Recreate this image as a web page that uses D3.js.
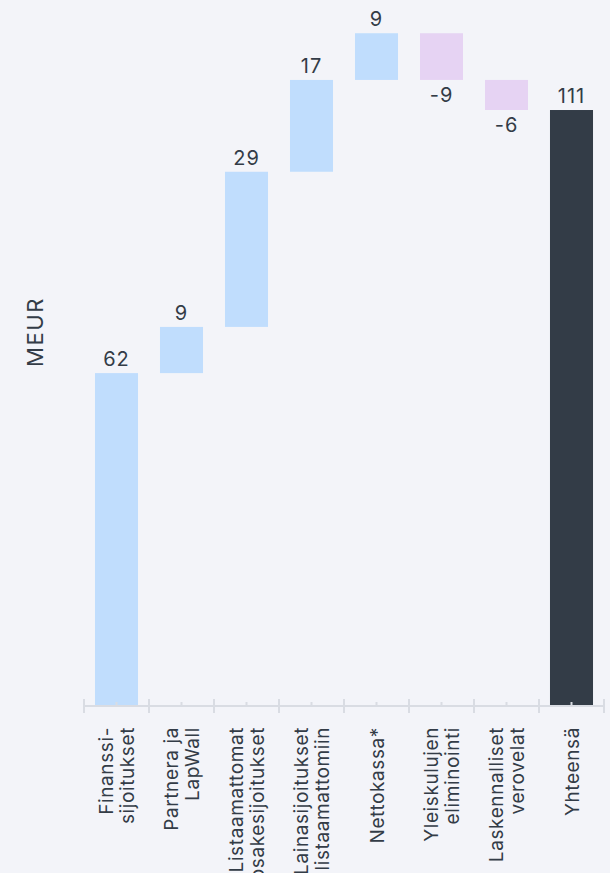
<!DOCTYPE html>
<html>
<head>
<meta charset="utf-8">
<script src="https://cdn.jsdelivr.net/npm/d3@7"></script>
<style>
    html, body { margin: 0; padding: 0; background: #f3f4f9; }
    svg { display: block; font-family: Inter, "Open Sans", sans-serif; }
</style>
</head>
<body>
<div id="chart"></div>
<script>
    "use strict";

    // category labels, one entry per line of text
    const categories = [
        ["Finanssi-", "sijoitukset"],
        ["Partnera ja", "LapWall"],
        ["Listaamattomat", "osakesijoitukset"],
        ["Lainasijoitukset", "listaamattomiin"],
        ["Nettokassa*"],
        ["Yleiskulujen", "eliminointi"],
        ["Laskennalliset", "verovelat"],
        ["Yhteensä"]
    ];

    // step values (MEUR), last one is the total
    const steps = [62.0, 8.6, 28.9, 17.1, 8.7, -8.7, -5.6];
    const stepLabels = ["62", "9", "29", "17", "9", "-9", "-6"];
    const totalLabel = "111";

    const width = 610;
    const height = 873;

    const svg = d3.select("#chart").append("svg")
        .attr("width", width)
        .attr("height", height);

    const keys = categories.map(c => c.join(" "));

    const x = d3.scaleBand()
        .domain(keys)
        .range([84, 604])
        .paddingInner(0.338)
        .paddingOuter(0.169);

    const y = d3.scaleLinear()
        .domain([0, 130])
        .range([706, 8]);

    // build waterfall rows
    let running = 0;
    const rows = steps.map((v, i) => {
        const start = running;
        running += v;
        return {key: keys[i], start: start, end: running, value: v, label: stepLabels[i], kind: v >= 0 ? "up" : "down"};
    });
    rows.push({key: keys[keys.length - 1], start: 0, end: running, value: running, label: totalLabel, kind: "total"});

    const fill = {up: "#c0ddfd", down: "#e6d3f3", total: "#333c47"};

    svg.append("g")
        .selectAll("rect")
        .data(rows)
        .join("rect")
        .attr("x", d => x(d.key))
        .attr("width", x.bandwidth())
        .attr("y", d => y(Math.max(d.start, d.end)))
        .attr("height", d => Math.abs(y(d.start) - y(d.end)))
        .attr("fill", d => fill[d.kind]);

    svg.append("g")
        .selectAll("text")
        .data(rows)
        .join("text")
        .attr("x", d => x(d.key) + x.bandwidth() / 2)
        .attr("y", d => d.kind === "down" ? y(Math.min(d.start, d.end)) + 22 : y(Math.max(d.start, d.end)) - 7)
        .attr("text-anchor", "middle")
        .attr("font-size", 20)
        .attr("letter-spacing", 1)
        .attr("fill", "#333c47")
        .text(d => d.label);

    // axis
    const axisY = y(0);
    const axis = svg.append("g").attr("stroke", "#d9dce3").attr("stroke-width", 2);
    axis.append("line")
        .attr("x1", x.range()[0]).attr("x2", x.range()[1])
        .attr("y1", axisY).attr("y2", axisY);

    const bounds = keys.map(k => x(k) - x.step() * x.paddingInner() / 2).concat([x.range()[1]]);
    axis.selectAll(".major")
        .data(bounds)
        .join("line")
        .attr("class", "major")
        .attr("x1", d => d).attr("x2", d => d)
        .attr("y1", axisY - 7).attr("y2", axisY + 7);

    axis.selectAll(".minor")
        .data(keys)
        .join("line")
        .attr("class", "minor")
        .attr("x1", d => x(d) + x.bandwidth() / 2).attr("x2", d => x(d) + x.bandwidth() / 2)
        .attr("y1", axisY - 4).attr("y2", axisY);

    // category labels, rotated
    const labels = svg.append("g")
        .selectAll("text")
        .data(categories)
        .join("text")
        .attr("transform", (d, i) => `translate(${x(keys[i]) + x.bandwidth() / 2},${axisY + 21}) rotate(-90)`)
        .attr("text-anchor", "end")
        .attr("font-size", 19)
        .attr("letter-spacing", 0.6)
        .attr("fill", "#333c47");

    labels.selectAll("tspan")
        .data(d => d.map((t, j) => ({t: t, j: j, n: d.length})))
        .join("tspan")
        .attr("x", 0)
        .attr("y", d => (d.j - (d.n - 1) / 2) * 21 + 7)
        .text(d => d.t);

    // y axis title
    svg.append("text")
        .attr("transform", "translate(43,332) rotate(-90)")
        .attr("text-anchor", "middle")
        .attr("font-size", 22)
        .attr("letter-spacing", 1.6)
        .attr("fill", "#333c47")
        .text("MEUR");
</script>
</body>
</html>
